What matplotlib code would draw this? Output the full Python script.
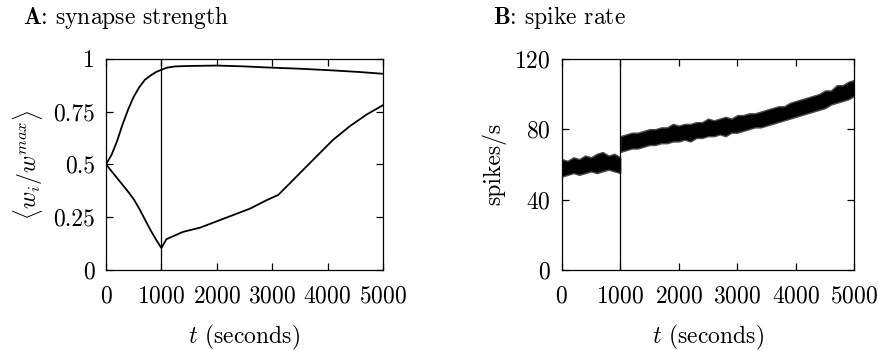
import matplotlib
matplotlib.use("Agg")
import matplotlib.pyplot as plt

plt.rcParams["font.family"] = "serif"
plt.rcParams["font.serif"] = ["cmr10", "DejaVu Serif"]
plt.rcParams["mathtext.fontset"] = "cm"
plt.rcParams["axes.formatter.use_mathtext"] = True
plt.rcParams["font.size"] = 17

# Panel A: mean synapse strength of the two groups
t_up = [0, 100, 200, 300, 400, 500, 600, 700, 800, 900, 1000, 1100, 1250, 1500,
        2000, 2500, 2900, 3500, 4100, 4600, 5000]
w_up = [0.5, 0.545, 0.61, 0.69, 0.76, 0.82, 0.865, 0.90, 0.92, 0.937, 0.948, 0.958, 0.964, 0.966,
        0.968, 0.964, 0.959, 0.953, 0.945, 0.937, 0.929]

t_low = [0, 200, 400, 500, 600, 700, 800, 900, 1000, 1090, 1390, 1700, 2000, 2300, 2600, 2900,
         3110, 3320, 3500, 3800, 4100, 4400, 4700, 5000]
w_low = [0.5, 0.435, 0.37, 0.335, 0.29, 0.24, 0.19, 0.145, 0.103, 0.145, 0.18, 0.20, 0.23, 0.26,
         0.29, 0.33, 0.355, 0.41, 0.458, 0.537, 0.616, 0.68, 0.735, 0.78]

# Panel B: spike rate band (lower / upper envelope), before and after t=1000
t_pre = [0, 100, 200, 300, 400, 500, 600, 700, 800, 900, 1000]
rate_pre_lo = [53, 54, 55, 54, 55, 56, 55, 56, 57, 56, 55]
rate_pre_hi = [63, 62, 64, 63, 65, 64, 66, 67, 65, 66, 64]

t_post = list(range(1000, 5001, 100))
rate_post_lo = [67, 68, 69, 69, 70, 71, 71, 72, 72, 73, 73, 74, 73, 75, 75, 76, 76, 77, 76, 78, 78,
                79, 80, 81, 81, 82, 83, 84, 85, 86, 87, 88, 89, 90, 91, 92, 94, 95, 96, 97, 99]
rate_post_hi = [76, 77, 78, 78, 79, 80, 80, 81, 81, 83, 82, 83, 83, 84, 84, 86, 85, 86, 87, 86, 88,
                88, 89, 89, 90, 91, 92, 93, 93, 95, 96, 97, 98, 99, 100, 102, 102, 105, 105, 107, 108]

x_ticks = [0, 1000, 2000, 3000, 4000, 5000]


def style_axes(ax):
    ax.tick_params(direction="in", length=5, width=0.9, top=True, right=True,
                   labelsize=17, pad=8)
    ax.tick_params(axis="x", pad=11)
    for s in ax.spines.values():
        s.set_linewidth(0.9)
    ax.set_xticks(x_ticks)
    ax.set_xlim(0, 5000)
    ax.set_xlabel(r"$t$ (seconds)", fontsize=17, labelpad=11)
    ax.axvline(1000, color="black", lw=0.9)


fig = plt.figure(figsize=(8.79, 3.5), dpi=100)
ax1 = fig.add_axes([0.1206, 0.229, 0.315, 0.603])
ax2 = fig.add_axes([0.639, 0.229, 0.333, 0.603])

# A
ax1.plot(t_up, w_up, color="black", lw=1.3)
ax1.plot(t_low, w_low, color="black", lw=1.3)
ax1.set_ylim(0, 1)
ax1.set_yticks([0, 0.25, 0.5, 0.75, 1])
ax1.set_yticklabels(["0", "0.25", "0.5", "0.75", "1"])
ax1.set_ylabel(r"$\langle w_i/w^{max}\rangle$", fontsize=17, labelpad=6)
style_axes(ax1)

# B
ax2.fill_between(t_pre, rate_pre_lo, rate_pre_hi, facecolor="black", edgecolor="0.3", lw=1.0)
ax2.fill_between(t_post, rate_post_lo, rate_post_hi, facecolor="black", edgecolor="0.3", lw=1.0)
ax2.set_ylim(0, 120)
ax2.set_yticks([0, 40, 80, 120])
ax2.set_ylabel("spikes/s", fontsize=17, labelpad=6)
style_axes(ax2)

fig.text(0.026, 0.951, r"$\mathbf{A}$: synapse strength", fontsize=17, va="center")
fig.text(0.561, 0.951, r"$\mathbf{B}$: spike rate", fontsize=17, va="center")

fig.savefig("out.png", dpi=100)
